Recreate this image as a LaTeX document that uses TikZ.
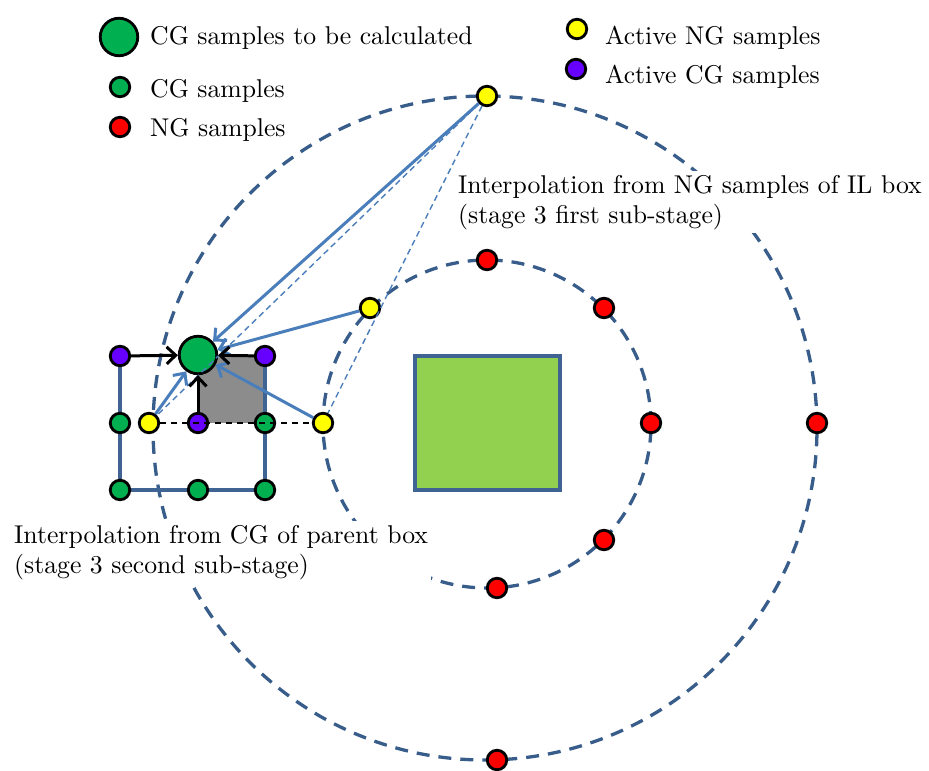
\documentclass[tikz,border=0pt]{standalone}
\usetikzlibrary{arrows.meta}
\definecolor{cgreen}{HTML}{00B050}
\definecolor{cred}{HTML}{FF0000}
\definecolor{cyel}{HTML}{FFFF00}
\definecolor{cpur}{HTML}{6600FF}
\definecolor{lgreen}{HTML}{92D050}
\definecolor{ringc}{HTML}{385D8A}
\definecolor{edgec}{HTML}{3F6494}
\definecolor{arrc}{HTML}{4A7EBB}
\definecolor{sqgray}{HTML}{8C8C8C}
\newcommand\lbl[1]{\scalebox{2.57}{#1}}
\newcommand\lblt[1]{\scalebox{2.57}{\begin{tabular}[t]{@{}l@{}}#1\end{tabular}}}
\pgfdeclarelayer{bg}
\pgfsetlayers{bg,main}
\begin{document}
\begin{tikzpicture}[x=1pt,y=-1pt,
  smp/.style={circle,draw=black,line width=2.8pt,minimum size=19.5pt,inner sep=0pt},
  bigsmp/.style={smp,minimum size=37.5pt},
  ringline/.style={draw=ringc,line width=3.3pt,dash pattern=on 13pt off 9pt},
  gridline/.style={draw=edgec,line width=3.3pt},
  barrow/.style={draw=arrc,line width=3pt,-{Straight Barb[length=9pt,width=17pt]}},
  karrow/.style={draw=black,line width=3pt,-{Straight Barb[length=9pt,width=17pt]}},
  thindash/.style={draw=arrc,line width=1.4pt,dash pattern=on 6pt off 4pt},
  kdash/.style={draw=black,line width=1.6pt,dash pattern=on 6pt off 5pt},
  txt/.style={inner sep=0pt,anchor=base west},
  boxtxt/.style={inner ysep=0pt,inner xsep=3pt,anchor=base west,fill=white}]
\path[use as bounding box] (0,0) rectangle (929,771);

% legend
\node[bigsmp,fill=cgreen] (lg0) at (119,37) {};
\node[smp,fill=cgreen] (lg1) at (120,87) {};
\node[smp,fill=cred] (lg2) at (120,127) {};
\node[smp,fill=cyel] (lg3) at (577,29) {};
\node[smp,fill=cpur] (lg4) at (576,69) {};
\node[txt] (t0) at (150,44) {\lbl{CG samples to be calculated}};
\node[txt] (t1) at (150,97.5) {\lbl{CG samples}};
\node[txt] (t2) at (150,136) {\lbl{NG samples}};
\node[txt] (t3) at (605,44) {\lbl{Active NG samples}};
\node[txt] (t4) at (605,83) {\lbl{Active CG samples}};

% samples
\node[smp,fill=cyel] (ty) at (487,96) {};
\node[smp,fill=cyel] (y2) at (370,308) {};
\node[smp,fill=cyel] (y3) at (323,423) {};
\node[smp,fill=cyel] (y1) at (149,423) {};
\node[smp,fill=cred] (r1) at (487,260) {};
\node[smp,fill=cred] (r2) at (604,308) {};
\node[smp,fill=cred] (r3) at (651,423) {};
\node[smp,fill=cred] (r4) at (604,540) {};
\node[smp,fill=cred] (r5) at (497,588) {};
\node[smp,fill=cred] (r6) at (817,423) {};
\node[smp,fill=cred] (r7) at (497,760) {};

\node[smp,fill=cpur] (p1) at (120,356) {};
\node[bigsmp,fill=cgreen] (G) at (198,355) {};
\node[smp,fill=cpur] (p2) at (265,356) {};
\node[smp,fill=cgreen] (g1) at (120,423) {};
\node[smp,fill=cpur] (p3) at (198,423) {};
\node[smp,fill=cgreen] (g2) at (265,423) {};
\node[smp,fill=cgreen] (g3) at (120,490) {};
\node[smp,fill=cgreen] (g4) at (198,490) {};
\node[smp,fill=cgreen] (g5) at (265,490) {};

\begin{pgfonlayer}{bg}
  \draw[ringline] (485,428) circle[radius=332pt];
  \draw[ringline] (487,424) circle[radius=164pt];
  \draw[draw=edgec,line width=3.2pt,fill=lgreen] (415,356) rectangle (560,490);
  \fill[sqgray] (198,356) rectangle (265,423);
  \draw[gridline] (p1.center) -- (g1.center) -- (g3.center) -- (g4.center) -- (g5.center) -- (g2.center) -- (p2.center);
\end{pgfonlayer}

% labels with white background
\node[boxtxt] (la) at (455,193) {\lblt{Interpolation from NG samples of IL box\\(stage 3 first sub-stage)}};
\node[boxtxt] (lb) at (11,543) {\lblt{Interpolation from CG of parent box\\(stage 3 second sub-stage)}};

% connectors
\draw[kdash] (y1) -- (y3);
\draw[thindash] (ty) -- (y1);
\draw[thindash] (ty) -- (y3);
\draw[barrow] (ty) -- (G);
\draw[barrow] (y2) -- (G);
\draw[barrow] (y3) -- (G);
\draw[barrow] (y1) -- (G);
\draw[karrow] (p1) -- (G);
\draw[karrow] (p3) -- (G);
\draw[karrow] (p2) -- (G);
\end{tikzpicture}
\end{document}
